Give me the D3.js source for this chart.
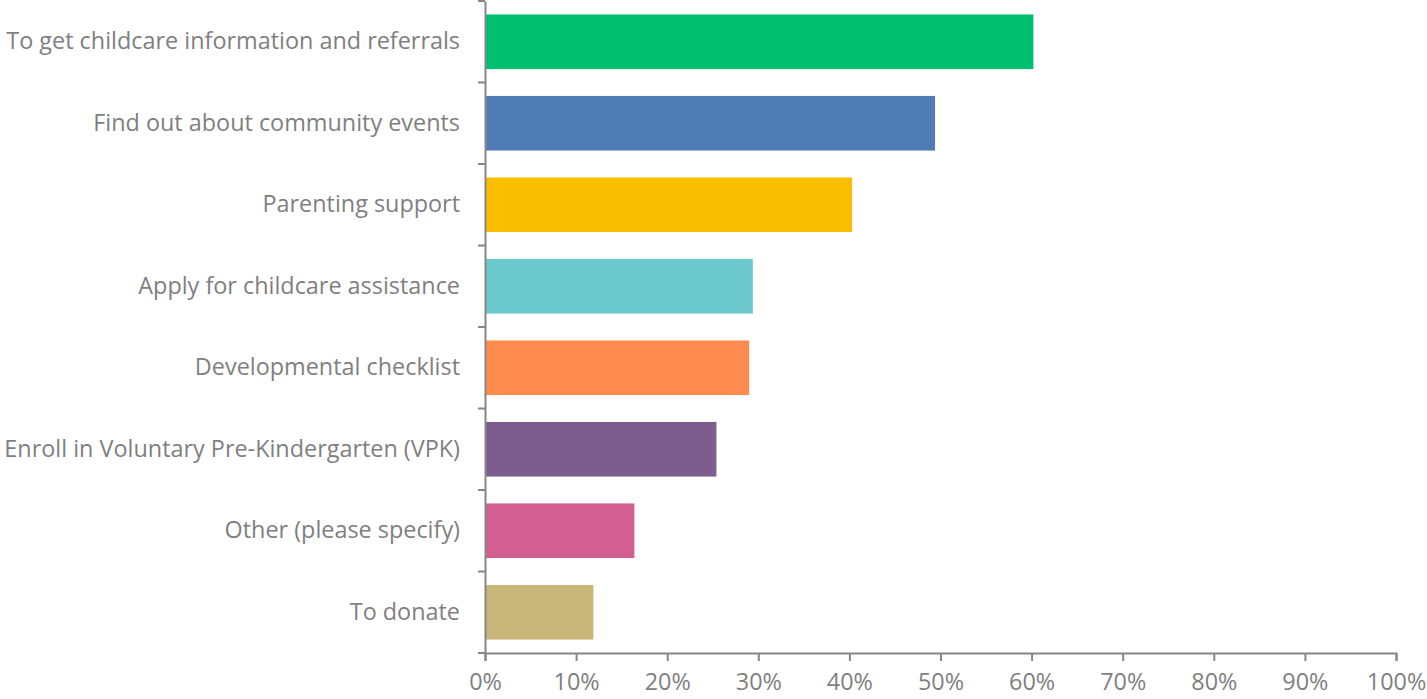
<!DOCTYPE html>
<html><head><meta charset="utf-8">
<script src="https://cdn.jsdelivr.net/npm/d3@7"></script>
<style>body{margin:0;background:#fff;} svg{display:block;}</style>
</head><body>
<svg id="chart" width="1427" height="699"></svg>
<script>
const categories = ["To get childcare information and referrals","Find out about community events","Parenting support","Apply for childcare assistance","Developmental checklist","Enroll in Voluntary Pre-Kindergarten (VPK)","Other (please specify)","To donate"];
const values = [60.2, 49.4, 40.3, 29.4, 29.0, 25.4, 16.4, 11.9];
const colors = ["#00BF6F","#507CB6","#F9BE00","#6BC8CD","#FF8B4F","#7D5C8E","#D25F90","#C9B77A"];
const xTicks = [0,10,20,30,40,50,60,70,80,90,100];

const svg = d3.select("#chart");
const m = {left:485, right:31, top:1, bottom:46};
const W = 1427, H = 699;
const x = d3.scaleLinear().domain([0,100]).range([m.left, W-m.right]);
const y = d3.scaleBand().domain(categories).range([m.top, H-m.bottom]).paddingInner(0.33).paddingOuter(0.165);
const axisColor = "#868686", textColor = "#7f7f7f";
const font = "'Open Sans', sans-serif";
const fs = "23.4px";

svg.selectAll("rect.bar").data(values).join("rect")
  .attr("x", x(0)+1).attr("y",(d,i)=>y(categories[i]))
  .attr("width", d=>x(d)-x(0)-1).attr("height", y.bandwidth())
  .attr("fill",(d,i)=>colors[i]);

const ya = svg.append("g").attr("transform",`translate(${x(0)},0)`)
  .call(d3.axisLeft(y).tickSize(0).tickPadding(25));
ya.select(".domain").attr("stroke",axisColor).attr("stroke-width",2);
ya.selectAll("text").attr("fill",textColor).style("font-family",font).style("font-size",fs);
const bounds = categories.map(c=>y(c)-y.step()*y.paddingInner()/2);
bounds.push(H-m.bottom);
ya.selectAll("line.bt").data(bounds).join("line").attr("class","bt")
  .attr("x1",-7).attr("x2",0).attr("y1",d=>d).attr("y2",d=>d)
  .attr("stroke",axisColor).attr("stroke-width",2);

const xa = svg.append("g").attr("transform",`translate(0,${H-m.bottom})`)
  .call(d3.axisBottom(x).tickValues(xTicks).tickFormat(d=>d+"%").tickSizeOuter(0).tickSize(8).tickPadding(12));
xa.select(".domain").attr("stroke",axisColor).attr("stroke-width",2);
xa.selectAll("line").attr("stroke",axisColor).attr("stroke-width",2);
xa.selectAll("text").attr("fill",textColor).style("font-family",font).style("font-size",fs);
</script>
</body></html>
